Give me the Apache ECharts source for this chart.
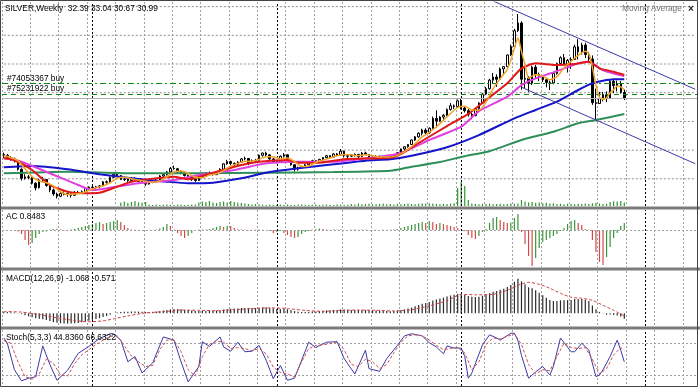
<!DOCTYPE html>
<html><head><meta charset="utf-8">
<script src="https://cdn.jsdelivr.net/npm/echarts@6/dist/echarts.min.js"></script>
<style>html,body{margin:0;padding:0;background:#fff}#c{width:700px;height:388px}</style>
</head><body><div id="c"></div>
<script>
// ---------- DATA (SILVER weekly) ----------
const SLOT_COUNT = 196; // weekly slots on the time axis (176 bars + empty right margin)
const opens = [18.6,18.4,17.9,17.6,17.2,15.3,13.3,13.6,13.5,12.2,
11.2,12.9,13.0,11.7,10.7,9.8,9.3,9.9,9.7,9.9,
9.5,10.2,10.0,10.3,11.0,11.3,11.2,11.4,11.6,12.5,
12.4,13.5,14.2,13.9,13.0,13.1,12.8,13.3,13.0,12.6,
12.3,12.0,12.5,12.4,12.9,13.8,14.1,14.7,15.5,15.4,
14.7,14.5,13.9,13.5,13.0,12.8,13.6,13.9,14.5,14.3,
14.1,14.6,15.3,16.5,17.0,16.6,16.4,16.9,17.6,17.7,
16.7,17.2,17.3,18.4,18.9,18.5,17.6,17.0,16.9,18.2,
18.5,17.5,16.3,15.3,15.6,15.9,16.3,16.8,17.2,16.9,
17.5,17.9,18.3,18.0,18.7,18.5,19.3,18.3,18.2,18.4,
18.6,18.1,18.9,18.6,18.0,17.9,18.2,17.7,18.1,18.0,
18.2,18.4,19.0,19.8,20.3,20.8,21.8,22.5,23.3,24.0,
23.4,24.4,26.6,26.0,26.9,27.3,28.6,29.4,29.2,30.5,
28.9,28.3,27.5,27.2,28.8,30.0,32.0,33.2,35.1,35.8,
35.3,37.6,38.1,40.7,42.6,46.1,47.8,35.3,35.5,34.4,
38.0,36.4,35.8,35.2,34.6,34.5,36.6,38.8,40.1,38.6,
39.5,39.7,42.5,41.4,42.9,40.8,39.8,30.1,29.9,31.0,
31.9,31.1,34.8,33.9,34.3,32.39];
const highs = [19.0,18.7,18.2,17.9,17.3,15.5,14.2,14.0,13.6,12.4,
13.2,13.6,13.1,11.9,11.0,10.1,10.3,10.4,10.1,10.0,
10.4,10.5,10.6,11.2,11.5,11.6,11.6,11.8,12.7,12.8,
13.7,14.6,14.5,14.0,13.4,13.2,13.6,13.5,13.1,12.8,
12.4,12.7,12.8,13.1,14.0,14.4,14.9,15.8,16.1,15.6,
15.0,14.7,14.1,13.7,13.2,13.8,14.1,14.7,14.8,14.5,
14.8,15.5,16.6,17.4,17.2,16.8,17.1,17.8,18.1,17.8,
17.5,17.6,18.6,19.0,19.2,18.6,17.8,17.3,18.4,18.9,
18.6,17.6,16.4,15.9,16.1,16.5,17.0,17.4,17.3,17.6,
18.0,18.5,18.4,18.9,18.9,19.8,19.4,18.6,18.7,18.8,
18.7,19.1,19.2,18.7,18.3,18.4,18.3,18.3,18.4,18.3,
18.5,19.1,19.9,20.4,20.9,21.9,22.7,23.5,24.3,24.4,
24.6,27.0,28.4,27.1,27.6,28.8,30.0,29.7,30.8,31.0,
29.2,28.7,27.8,29.0,30.2,32.2,33.6,35.4,36.7,36.4,
37.9,38.2,40.8,43.0,46.5,49.8,48.2,38.0,36.0,38.3,
38.5,36.8,36.2,35.6,35.0,36.9,39.0,40.4,40.9,39.8,
40.2,43.0,44.2,43.4,43.4,41.4,40.6,33.2,32.5,32.5,
32.6,35.3,35.2,35.0,34.9,33.04];
const lows = [17.8,17.6,17.2,16.8,15.0,12.8,13.0,13.1,11.9,10.6,
11.0,12.4,11.4,10.2,9.4,8.8,9.1,9.5,9.2,9.0,
9.4,9.8,9.9,10.2,10.8,11.0,10.9,11.1,11.5,12.1,
12.3,13.4,13.6,12.9,12.7,12.5,12.6,12.8,12.4,12.1,
11.6,11.9,12.2,12.3,12.8,13.6,13.9,14.6,15.2,14.5,
14.2,13.7,13.3,12.7,12.5,12.7,13.4,13.8,14.1,13.9,
14.0,14.5,15.2,16.3,16.2,15.9,16.2,16.8,17.3,16.2,
16.5,16.9,17.2,18.1,18.2,17.4,16.8,16.6,16.8,17.9,
17.2,16.1,14.8,15.0,15.4,15.7,16.2,16.6,16.6,16.8,
17.3,17.7,17.7,17.9,18.2,18.3,17.9,17.6,18.0,18.1,
17.8,18.0,18.4,17.8,17.5,17.8,17.5,17.6,17.8,17.9,
17.9,18.3,18.9,19.6,20.1,20.7,21.6,22.3,22.8,22.9,
23.2,24.3,24.6,25.8,26.2,27.1,28.3,28.7,29.0,28.6,
27.9,27.0,26.4,27.1,28.5,29.8,31.8,33.0,34.3,33.6,
35.1,36.5,38.0,40.5,42.4,45.8,33.0,33.2,32.5,34.0,
35.5,34.9,34.7,33.5,32.9,34.2,36.3,38.6,38.4,36.8,
37.6,39.6,39.7,40.8,40.0,39.2,29.6,26.1,29.8,30.4,
30.2,30.9,32.2,32.6,32.1,30.67];
const closes = [18.4,17.9,17.6,17.2,15.3,13.3,13.6,13.5,12.2,11.2,
12.9,13.0,11.7,10.7,9.8,9.3,9.9,9.7,9.9,9.5,
10.2,10.0,10.3,11.0,11.3,11.2,11.4,11.6,12.5,12.4,
13.5,14.2,13.9,13.0,13.1,12.8,13.3,13.0,12.6,12.3,
12.0,12.5,12.4,12.9,13.8,14.1,14.7,15.5,15.4,14.7,
14.5,13.9,13.5,13.0,12.8,13.6,13.9,14.5,14.3,14.1,
14.6,15.3,16.5,17.0,16.6,16.4,16.9,17.6,17.7,16.7,
17.2,17.3,18.4,18.9,18.5,17.6,17.0,16.9,18.2,18.5,
17.5,16.3,15.3,15.6,15.9,16.3,16.8,17.2,16.9,17.5,
17.9,18.3,18.0,18.7,18.5,19.3,18.3,18.2,18.4,18.6,
18.1,18.9,18.6,18.0,17.9,18.2,17.7,18.1,18.0,18.2,
18.4,19.0,19.8,20.3,20.8,21.8,22.5,23.3,24.0,23.4,
24.4,26.6,26.0,26.9,27.3,28.6,29.4,29.2,30.5,28.9,
28.3,27.5,27.2,28.8,30.0,32.0,33.2,35.1,35.8,35.3,
37.6,38.1,40.7,42.6,46.1,47.8,35.3,35.5,34.4,38.0,
36.4,35.8,35.2,34.6,34.5,36.6,38.8,40.1,38.6,39.5,
39.7,42.5,41.4,42.9,40.8,39.8,30.1,29.9,31.0,31.9,
31.1,34.8,33.9,34.3,32.4,30.99];
const volumes = [0,0,0,0,0,0,0,0,0,0,0,0,0,0,0,0,0,0,0,0,0,0,0,0,0,0,0,0,0,0,0,0,0,
18,22,15,20,25,18,16,20,
6,5,7,5,6,8,6,5,7,6,5,6,7,8,
18,22,20,25,18,15,20,22,18,25,20,16,15,12,10,8,10,9,
6,5,7,6,5,8,6,7,5,6,8,7,6,5,6,7,5,6,8,6,5,7,6,5,6,
10,8,12,9,10,11,8,9,10,12,9,10,8,11,9,10,12,10,9,11,13,12,14,12,10,9,11,10,12,14,
90,120,100,30,
12,10,9,11,10,12,9,10,11,9,10,12,11,13,
30,22,18,20,15,18,14,16,12,14,
10,11,9,12,10,9,11,10,12,10,14,16,12,10,11,
20,24,22,25,18];
const acValues = [-0.04,-0.05,-0.04,-0.06,-0.18,-0.48,-1.21,-1.82,-1.57,-0.97,
-0.48,-0.24,-0.18,0.06,0.12,0.15,0.07,-0.06,-0.12,0.05,
0.12,0.24,0.36,0.48,0.61,0.73,0.85,0.97,0.73,0.85,
0.97,1.09,1.21,0.97,0.61,0.24,0.06,0.04,0.02,-0.04,
-0.04,0.04,0.04,0.06,0.18,0.36,0.73,0.48,0.06,-0.36,
-0.73,-0.97,-0.73,-0.36,-0.12,0.05,0.05,0.07,0.12,0.24,
0.36,0.48,0.36,0.52,0.48,0.24,0.10,0.05,0.04,-0.04,
0.04,0.04,0.05,0.04,-0.04,-0.12,-0.36,-0.24,-0.12,-0.36,
-0.61,-0.85,-0.97,-0.85,-0.48,-0.24,-0.12,0.06,0.12,0.18,
0.12,0.06,0.04,0.07,0.05,0.10,0.04,-0.04,0.04,0.05,
0.04,0.06,0.04,-0.04,-0.04,0.04,-0.04,0.04,0.04,0.04,
0.06,0.12,0.24,0.36,0.48,0.61,0.73,0.85,0.97,0.85,
1.09,0.97,0.73,0.85,0.73,0.61,0.48,0.36,0.24,0.06,
-0.12,-0.61,-0.97,-1.09,-0.73,-0.24,0.12,0.85,1.45,1.57,
1.21,0.97,0.85,0.91,1.45,1.94,-0.24,-1.69,-3.15,-4.36,
-3.39,-2.18,-1.45,-1.21,-0.97,-0.73,-0.48,-0.12,0.24,0.73,
1.09,1.21,0.85,0.61,0.12,0.04,-1.21,-2.66,-3.87,-4.24,
-3.27,-2.06,-0.97,-0.36,0.48,0.8483];
const macdValues = [0.30,0.26,0.22,0.16,0.04,-0.16,-0.40,-0.60,-0.80,-1.00,
-1.10,-1.20,-1.36,-1.56,-1.76,-1.90,-2.00,-2.04,-2.06,-2.06,
-2.00,-1.92,-1.80,-1.66,-1.50,-1.32,-1.16,-0.96,-0.72,-0.52,
-0.28,0.00,0.16,0.24,0.30,0.32,0.36,0.36,0.34,0.30,
0.26,0.26,0.28,0.34,0.44,0.56,0.66,0.78,0.84,0.84,
0.80,0.72,0.64,0.54,0.46,0.44,0.44,0.48,0.50,0.52,
0.56,0.62,0.74,0.86,0.92,0.94,0.98,1.04,1.08,1.04,
1.04,1.04,1.12,1.20,1.20,1.12,1.00,0.88,0.88,0.88,
0.80,0.64,0.44,0.32,0.26,0.24,0.28,0.34,0.36,0.42,
0.50,0.58,0.60,0.66,0.68,0.76,0.74,0.70,0.68,0.68,
0.64,0.66,0.66,0.60,0.56,0.54,0.48,0.46,0.44,0.42,
0.44,0.52,0.66,0.80,0.96,1.16,1.40,1.66,1.92,2.06,
2.24,2.56,2.76,2.96,3.14,3.36,3.56,3.70,3.86,3.80,
3.66,3.48,3.30,3.26,3.32,3.50,3.74,4.04,4.30,4.44,
4.70,4.92,5.26,5.68,6.32,6.92,6.40,5.80,5.20,5.00,
4.60,4.10,3.60,3.10,2.64,2.46,2.48,2.60,2.60,2.64,
2.66,2.84,2.84,2.88,2.72,2.48,1.56,0.80,0.28,-0.04,
-0.28,-0.24,-0.32,-0.44,-0.66,-1.068];
const macdSignal = [[0,0.36],[5,0.24],[10,-0.24],[15,-0.90],[20,-1.46],[24,-1.70],[28,-1.52],[31,-1.10],[35,-0.52],[40,0.08],[45,0.32],[50,0.64],[55,0.60],[60,0.52],[65,0.72],[70,0.94],[75,1.08],[80,0.96],[85,0.56],[90,0.40],[95,0.58],[100,0.66],[105,0.60],[110,0.48],[115,0.72],[120,1.50],[125,2.50],[129,3.80],[133,3.70],[138,3.80],[142,4.60],[145,5.60],[148,6.20],[151,5.80],[154,5.00],[157,4.00],[160,3.20],[163,3.00],[166,2.60],[169,1.60],[172,0.60],[175,-0.571]];
const stochK = [[0,90],[1,80],[3,30],[5,9],[7,14],[8,15],[9,17],[11,75],[13,40],[15,10],[18,29],[21,61],[24,74],[27,89],[30,98],[31,98],[33,86],[35,45],[37,55],[39,24],[42,43],[45,92],[48,86],[50,45],[52,7],[55,36],[56,83],[58,74],[61,92],[62,73],[64,65],[66,82],[68,64],[70,65],[72,76],[74,48],[76,13],[78,38],[80,10],[82,14],[86,82],[88,72],[91,82],[94,83],[96,51],[99,22],[102,67],[103,32],[106,27],[108,51],[111,76],[113,94],[115,98],[118,94],[120,81],[122,73],[124,60],[125,75],[127,71],[129,71],[130,55],[131,14],[132,24],[135,77],[137,96],[139,90],[140,86],[143,99],[144,99],[145,85],[146,57],[148,14],[150,26],[152,36],[154,20],[155,36],[157,90],[160,64],[161,64],[163,80],[165,67],[167,17],[168,20],[169,30],[171,55],[173,86],[174,67],[175,44.836]];
const stochD = [[0,85],[2,80],[4,45],[6,17],[8,12],[10,22],[12,50],[14,42],[16,20],[18,18],[20,42],[22,58],[24,68],[27,82],[30,93],[32,94],[34,75],[36,56],[38,45],[40,36],[42,38],[44,68],[46,86],[48,86],[50,64],[52,30],[54,18],[56,55],[58,78],[60,84],[62,82],[64,70],[66,72],[68,70],[70,66],[72,70],[74,60],[76,35],[78,25],[80,22],[82,16],[84,45],[86,70],[88,76],[91,78],[94,82],[96,68],[98,40],[100,36],[102,50],[104,45],[106,32],[108,40],[110,62],[112,82],[114,94],[116,96],[118,94],[120,86],[122,76],[124,68],[126,70],[128,72],[130,62],[132,30],[134,45],[136,78],[138,90],[140,88],[142,93],[144,98],[146,78],[148,40],[150,22],[152,30],[154,28],[156,55],[158,80],[160,72],[162,70],[164,72],[166,50],[168,22],[170,32],[172,58],[174,72],[175,66.6322]];
const maOrange = [[0,18.3],[2,17.9],[4,17.2],[6,15.4],[8,13.6],[10,12.7],[12,12.3],[14,11.6],[16,10.3],[18,9.7],[20,9.8],[22,10.0],[24,10.6],[26,11.2],[28,11.6],[30,12.3],[32,13.3],[34,13.5],[36,13.2],[38,12.9],[40,12.6],[42,12.4],[44,12.7],[46,13.6],[48,14.7],[50,14.9],[52,14.4],[54,13.5],[56,13.4],[58,14.0],[60,14.3],[62,15.0],[64,16.0],[66,16.6],[68,17.1],[70,17.1],[72,17.5],[74,18.1],[76,18.1],[78,17.6],[80,17.8],[82,17.0],[84,15.9],[86,16.0],[88,16.8],[90,17.3],[92,17.8],[94,18.3],[96,18.6],[98,18.5],[100,18.3],[102,18.5],[104,18.3],[106,18.0],[108,18.0],[110,18.1],[112,18.7],[114,19.7],[116,21.0],[118,22.5],[120,23.5],[122,24.7],[124,26.2],[126,27.7],[128,29.0],[130,29.3],[132,28.5],[134,28.4],[136,30.2],[138,33.2],[140,35.4],[142,37.5],[143,39.5],[144,42.2],[145,44.5],[146,41.5],[147,38.5],[148,35.5],[149,36.0],[150,36.3],[152,36.0],[154,35.2],[156,35.9],[158,37.8],[160,39.3],[162,40.6],[164,41.5],[165,41.0],[166,38.0],[167,34.0],[168,31.3],[169,30.8],[170,31.2],[171,32.3],[172,33.0],[173,33.8],[174,33.6],[175,32.9]];
const maRed = [[0,17.73],[3,17.3],[8,15.13],[13,11.8],[18,10.31],[22,9.95],[27,10.09],[31,11.13],[36,12.53],[43,13.29],[48,13.64],[52,13.07],[59,14.53],[67,16.24],[72,16.98],[80,17.35],[83,16.75],[89,16.75],[96,17.51],[109,17.87],[112,18.69],[117,21.13],[125,24.9],[131,27.6],[136,30.69],[142,34.4],[146,37.73],[150,38.84],[156,38.47],[161,38.69],[165,39.2],[168,37.73],[172,36.98],[175,36.24]];
const maMagenta = [[0,17.73],[5,16.98],[13,14.4],[21,11.8],[25,10.69],[29,11.07],[38,12.18],[48,12.91],[55,14.02],[65,15.13],[74,16.62],[83,16.98],[93,16.98],[106,18.09],[112,18.91],[120,21.8],[129,24.75],[134,28.2],[142,31.42],[146,34.0],[150,35.51],[156,37.1],[162,38.84],[165,39.2],[169,37.3],[175,36.0]];
const maBlue = [[0,15.73],[8,16.02],[18,15.29],[27,14.18],[36,13.29],[46,12.53],[52,12.18],[59,12.31],[67,13.29],[74,14.53],[83,15.51],[93,16.4],[102,17.2],[109,17.51],[115,18.3],[125,20.2],[134,22.9],[144,26.62],[150,28.47],[156,30.31],[162,32.91],[166,34.4],[172,35.29],[175,35.29]];
const maGreen = [[0,14.4],[18,14.75],[36,14.4],[55,14.4],[74,14.53],[93,14.69],[109,14.98],[114,15.7],[123,16.9],[130,18.2],[137,19.3],[146,21.8],[155,23.64],[162,25.51],[167,26.24],[175,27.58]];
const trendUpper = [[138,52.69],[195,33.08]];
const trendLower = [[146,33.53],[195,16.53]];
const orderLevels = [34.40, 31.95];
const bidPrice = 30.99;
const yearStarts = [25, 77, 129, 181];
const priceGridLevels = [51.44, 45.07, 38.69, 32.31, 25.93, 19.55, 13.18];
const stochLevels = [20, 80];

[opens, highs, lows, closes, volumes, acValues, macdValues].forEach((a, k) => {
  if (a.length !== 176) throw new Error('array ' + k + ' has length ' + a.length);
});

// ---------- CHART ----------
const slots = Array.from({length: SLOT_COUNT}, (_, i) => String(i));
const lastSlot = SLOT_COUNT - 1;
const candleData = opens.map((o, i) => [o, closes[i], lows[i], highs[i]]);
const acColored = acValues.map((v, i) => ({
  value: v,
  itemStyle: {color: (i > 0 && v > acValues[i - 1]) ? '#3a963a' : '#d44a4a'}
}));

const gridStyle = {color: '#a0a0a0', type: [2, 2], width: 1};
const sepStyle = {color: '#000', type: [2, 2], width: 1};
function xAx(g) {
  return {type: 'category', gridIndex: g, data: slots, boundaryGap: true,
    axisLine: {show: false}, axisTick: {show: false}, axisLabel: {show: false},
    splitLine: {show: true, interval: 7, lineStyle: gridStyle}};
}
function hidY(g, min, max) {
  return {type: 'value', gridIndex: g, min: min, max: max, show: false, splitLine: {show: false}};
}
function vlines() {
  return yearStarts.map(x => ({xAxis: x, lineStyle: sepStyle}));
}
const mlBase = {silent: true, symbol: ['none', 'none'], label: {show: false}, animation: false};
function line(name, data, color, width, yIdx, xIdx, extra) {
  return Object.assign({name, type: 'line', data, xAxisIndex: xIdx, yAxisIndex: yIdx,
    symbol: 'none', smooth: 0.2, lineStyle: {color, width}, itemStyle: {color}, z: 5}, extra || {});
}
// horizontal price-pane grid lines drawn as plain line series at the grid price levels
const gridLineSeries = priceGridLevels.map(p => ({
  type: 'line', xAxisIndex: 0, yAxisIndex: 0, silent: true, symbol: 'none', z: 0,
  data: [[0, p], [lastSlot, p]],
  lineStyle: {color: '#8c8c8c', type: [2, 2], width: 1}
}));

const font = '8.3px "Liberation Sans", Arial, sans-serif';
const option = {
  animation: false,
  backgroundColor: '#fff',
  grid: [
    {left: 2, right: 3, top: 2, height: 204},
    {left: 2, right: 3, top: 210, height: 57},
    {left: 2, right: 3, top: 271, height: 55},
    {left: 2, right: 3, top: 330, height: 56}
  ],
  xAxis: [xAx(0), xAx(1), xAx(2), xAx(3)],
  yAxis: [
    hidY(0, 7.13, 52.47),     // 0 price
    hidY(0, 0, 1020),         // 1 volume
    hidY(1, -4.48, 2.42),     // 2 AC
    hidY(2, -2.54, 8.46),     // 3 MACD
    hidY(3, -0.76, 105.1)     // 4 Stoch
  ],
  series: gridLineSeries.concat([
    {name: 'Volumes', type: 'bar', xAxisIndex: 0, yAxisIndex: 1, data: volumes, barWidth: 1.2,
      itemStyle: {color: '#2f942f'}, z: 1},
    {name: 'levels', type: 'line', xAxisIndex: 0, yAxisIndex: 0, data: [], z: 2,
      markLine: Object.assign({}, mlBase, {data:
        vlines()
        .concat([{yAxis: bidPrice, lineStyle: {color: '#b0b0b0', type: 'solid', width: 1}}])
        .concat([{yAxis: orderLevels[0], lineStyle: {color: '#118811', type: [6, 3, 2, 3], width: 1}},
                 {yAxis: orderLevels[1], lineStyle: {color: '#118811', type: [5, 4], width: 1}}])
      })},
    {name: 'SILVER', type: 'candlestick', xAxisIndex: 0, yAxisIndex: 0, data: candleData, barWidth: 2, z: 3,
      itemStyle: {color: '#ffffff', color0: '#000000', borderColor: '#000000', borderColor0: '#000000', borderWidth: 1}},
    line('MA green', maGreen, '#2f8f5a', 2, 0, 0),
    line('MA blue', maBlue, '#1414c8', 2, 0, 0),
    line('MA magenta', maMagenta, '#e040e0', 2, 0, 0),
    line('MA red', maRed, '#e01818', 2, 0, 0),
    line('MA orange', maOrange, '#f0a32a', 1.5, 0, 0),
    line('Trend upper', trendUpper, '#3a3aa8', 1, 0, 0, {smooth: false}),
    line('Trend lower', trendLower, '#3a3aa8', 1, 0, 0, {smooth: false}),
    // AC
    {name: 'AC', type: 'bar', xAxisIndex: 1, yAxisIndex: 2, data: acColored, barWidth: 1.2, z: 3,
      markLine: Object.assign({}, mlBase, {data: [{yAxis: 0, lineStyle: gridStyle}].concat(vlines())})},
    // MACD
    {name: 'MACD', type: 'bar', xAxisIndex: 2, yAxisIndex: 3, data: macdValues, barWidth: 1.2, z: 3,
      itemStyle: {color: '#2a2a2a'},
      markLine: Object.assign({}, mlBase, {data: vlines()})},
    line('Signal', macdSignal, '#d04040', 1, 3, 2, {lineStyle: {color: '#d04040', width: 1, type: [3, 2]}}),
    // Stoch
    line('%K', stochK, '#3a3aa8', 1, 4, 3, {smooth: false,
      markLine: Object.assign({}, mlBase, {data: stochLevels.map(v => ({yAxis: v, lineStyle: gridStyle})).concat(vlines())})}),
    line('%D', stochD, '#d05050', 1, 4, 3, {smooth: false, lineStyle: {color: '#d05050', width: 1, type: [3, 2]}})
  ]),
  graphic: [
    {type: 'rect', silent: true, z: 100, shape: {x: 0, y: 206.5, width: 700, height: 3}, style: {fill: '#7c7c7c'}},
    {type: 'rect', silent: true, z: 100, shape: {x: 0, y: 267.5, width: 700, height: 3}, style: {fill: '#7c7c7c'}},
    {type: 'rect', silent: true, z: 100, shape: {x: 0, y: 326.5, width: 700, height: 3}, style: {fill: '#7c7c7c'}},
    {type: 'rect', silent: true, z: 100, shape: {x: 0.5, y: 0.5, width: 697, height: 386}, style: {fill: 'none', stroke: '#444', lineWidth: 1}},
    {type: 'text', silent: true, z: 101, left: 5, top: 5, style: {text: 'SILVER,Weekly  32.39 33.04 30.67 30.99', font: font, fill: '#000'}},
    {type: 'text', silent: true, z: 101, left: 622, top: 5, style: {text: 'Moving Average', font: font, fill: '#707070'}},
    {type: 'text', silent: true, z: 101, left: 688, top: 4, style: {text: '×', font: 'bold 10px "Liberation Sans", Arial, sans-serif', fill: '#222'}},
    {type: 'text', silent: true, z: 101, left: 7, top: 74.5, style: {text: '#74053367 buy', font: font, fill: '#000'}},
    {type: 'text', silent: true, z: 101, left: 7, top: 85, style: {text: '#75231922 buy', font: font, fill: '#000'}},
    {type: 'text', silent: true, z: 101, left: 6, top: 213, style: {text: 'AC 0.8483', font: font, fill: '#000'}},
    {type: 'text', silent: true, z: 101, left: 6, top: 275, style: {text: 'MACD(12,26,9) -1.068 -0.571', font: font, fill: '#000'}},
    {type: 'text', silent: true, z: 101, left: 6, top: 334, style: {text: 'Stoch(5,3,3) 44.8360 66.6322', font: font, fill: '#000'}}
  ]
};
const chart = echarts.init(document.getElementById('c'), null, {renderer: 'canvas', width: 700, height: 388});
chart.setOption(option);
</script>
</body></html>
